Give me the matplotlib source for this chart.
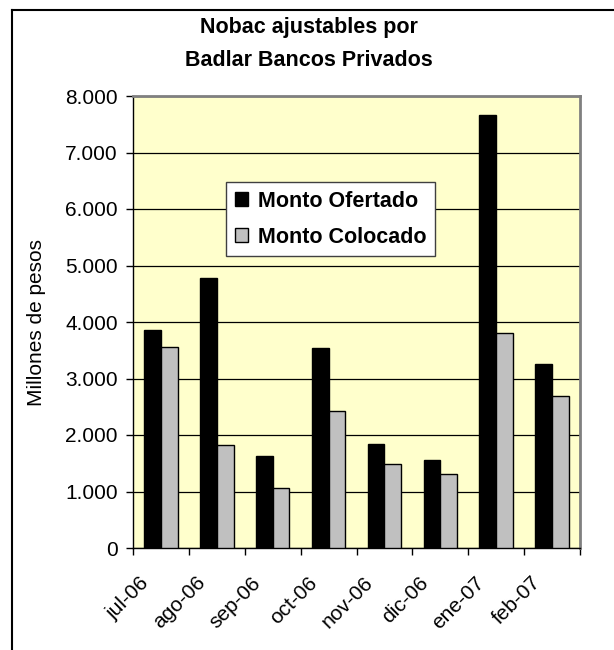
import numpy as np
import matplotlib.pyplot as plt
import matplotlib.transforms as mtrans
from matplotlib.lines import Line2D
from matplotlib.ticker import FuncFormatter

plt.rcParams['font.family'] = ['Liberation Sans', 'DejaVu Sans']

meses = ['jul-06', 'ago-06', 'sep-06', 'oct-06', 'nov-06', 'dic-06', 'ene-07', 'feb-07']
ofertado = [3850, 4780, 1630, 3535, 1835, 1557, 7660, 3257]
colocado = [3560, 1820, 1065, 2420, 1487, 1315, 3805, 2695]

fig = plt.figure(figsize=(6.14, 6.5), dpi=100)
ax = fig.add_axes([133 / 614, 1 - 548 / 650, 447 / 614, 452 / 650])
ax.set_facecolor('#FFFFCC')

x = np.arange(len(meses))
w = 0.3
ax.bar(x - w / 2, ofertado, w, color='black', edgecolor='black', linewidth=1,
       label='Monto Ofertado', zorder=3)
ax.bar(x + w / 2, colocado, w, color='#C0C0C0', edgecolor='black', linewidth=1,
       label='Monto Colocado', zorder=3)

ax.set_xlim(-0.5, len(meses) - 0.5)
ax.set_ylim(0, 8000)
ax.set_yticks(range(0, 8001, 1000))
ax.yaxis.set_major_formatter(FuncFormatter(lambda v, p: f'{int(v):,}'.replace(',', '.')))
ax.grid(axis='y', color='black', linewidth=0.9, zorder=1)

ax.set_xticks(x)
ax.set_xticklabels(meses, rotation=45, ha='right')
ax.set_xticks(np.arange(-0.5, len(meses)), minor=True)
ax.tick_params(axis='x', which='major', length=0, labelsize=15, pad=18)
ax.tick_params(axis='x', which='minor', length=5, width=1, color='black')
ax.tick_params(axis='y', length=5, width=1, labelsize=15, pad=6)

# desplazar etiquetas del eje x un poco a la izquierda
off = mtrans.ScaledTranslation(-8 / 100, 0, fig.dpi_scale_trans)
for lbl in ax.get_xticklabels():
    lbl.set_transform(lbl.get_transform() + off)

for s in ['top', 'right']:
    ax.spines[s].set_color('#808080')
    ax.spines[s].set_linewidth(2)
for s in ['left', 'bottom']:
    ax.spines[s].set_color('black')
    ax.spines[s].set_linewidth(1)

ax.set_ylabel('Millones de pesos', fontsize=15, labelpad=14)

fig.text(309 / 614, 1 - 44 / 650,
         'Nobac ajustables por\nBadlar Bancos Privados',
         ha='center', va='center', fontsize=15.5, fontweight='bold', linespacing=1.7)

leg = ax.legend(loc='upper left', bbox_to_anchor=(226 / 614, 1 - 182 / 650),
                bbox_transform=fig.transFigure, borderaxespad=0,
                prop={'size': 15.5, 'weight': 'bold'}, fancybox=False,
                framealpha=1, edgecolor='#404040', handlelength=0.6,
                handleheight=0.6, handletextpad=0.5, labelspacing=0.7,
                borderpad=0.4)
leg.get_frame().set_linewidth(1)

# marco del grafico
fig.add_artist(Line2D([12 / 614, 1], [1 - 10 / 650, 1 - 10 / 650], color='black', linewidth=1.5))
fig.add_artist(Line2D([12 / 614, 12 / 614], [0, 1 - 10 / 650], color='black', linewidth=1.5))

fig.savefig('out.png', dpi=100)
